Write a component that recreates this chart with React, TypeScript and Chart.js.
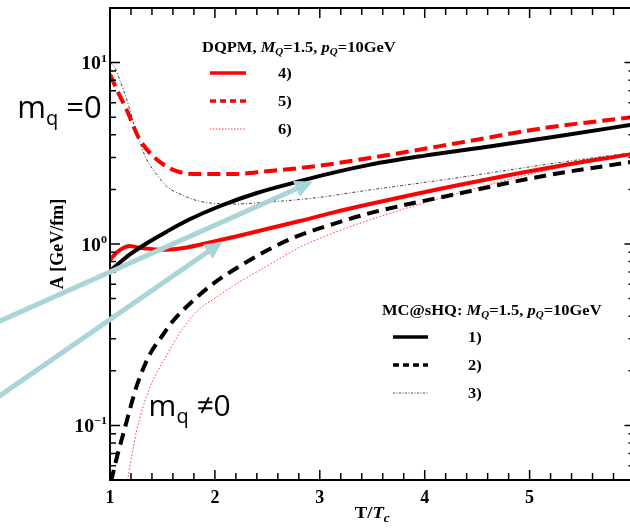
import React, { useEffect, useRef } from 'react';
import { Chart, registerables } from 'chart.js';

Chart.register(...registerables);

const SERIF = "'Liberation Serif', 'Times New Roman', serif";
const SANS = "'Open Sans', 'Liberation Sans', sans-serif";

// ---------- data (T/Tc, A [GeV/fm]) ----------
// MC@sHQ 1) black solid
const T_MC1 = [1.0, 1.1, 1.2, 1.35, 1.54, 1.75, 2.05, 2.4, 2.81, 3.1, 3.48, 4.0, 4.65, 5.3, 6.0];
const A_MC1 = [0.71, 0.796, 0.884, 1.01, 1.17, 1.36, 1.62, 1.91, 2.22, 2.45, 2.74, 3.07, 3.47, 3.95, 4.57];
// MC@sHQ 2) black dashed
const T_MC2 = [1.01, 1.04, 1.072, 1.138, 1.195, 1.253, 1.377, 1.5, 1.6, 1.855, 2.0, 2.2, 2.5, 2.75, 3.125, 3.478, 4.338, 5.131, 6.0];
const A_MC2 = [0.049, 0.058, 0.069, 0.095, 0.126, 0.164, 0.245, 0.313, 0.376, 0.525, 0.614, 0.733, 0.923, 1.084, 1.288, 1.479, 1.905, 2.371, 2.851];
// MC@sHQ 3) black dot-dashed
const T_MC3 = [1.0, 1.043, 1.1, 1.158, 1.253, 1.349, 1.45, 1.54, 1.7, 1.855, 2.17, 2.495, 2.972, 3.383, 4.338, 5.293, 6.0];
const A_MC3 = [10, 9.5, 7.8, 6.3, 4.1, 2.93, 2.4, 2.08, 1.85, 1.72, 1.66, 1.7, 1.8, 1.95, 2.33, 2.82, 3.2];
// DQPM 4) red solid
const T_DQ4 = [1.0, 1.05, 1.1, 1.15, 1.19, 1.25, 1.377, 1.54, 1.7, 1.855, 2.17, 2.495, 2.81, 3.125, 3.478, 4.338, 5.131, 6.0];
const A_DQ4 = [0.82, 0.88, 0.93, 0.965, 0.975, 0.96, 0.94, 0.93, 0.95, 0.99, 1.09, 1.21, 1.34, 1.49, 1.66, 2.12, 2.6, 3.15];
// DQPM 5) red dashed
const T_DQ5 = [1.0, 1.065, 1.158, 1.282, 1.444, 1.635, 1.855, 2.17, 2.495, 2.972, 3.383, 4.338, 5.131, 6.0];
const A_DQ5 = [8.6, 7.1, 5.5, 3.78, 2.93, 2.52, 2.43, 2.43, 2.52, 2.69, 2.92, 3.62, 4.35, 5.02];
// DQPM 6) red dotted
const T_DQ6 = [1.167, 1.253, 1.377, 1.54, 1.692, 1.855, 1.98, 2.17, 2.495, 2.81, 3.128, 3.478, 4.338, 5.131, 6.0];
const A_DQ6 = [0.05, 0.093, 0.16, 0.243, 0.341, 0.44, 0.494, 0.586, 0.755, 0.96, 1.15, 1.36, 1.92, 2.52, 3.13];

// ---------- axes ----------
const X_MIN = 1;
const X_MAX = 6;
const Y_MIN = 0.05;
const Y_MAX = 20;
const X_TICKS = [1, 1.2, 1.4, 1.6, 1.8, 2, 2.2, 2.4, 2.6, 2.8, 3, 3.2, 3.4, 3.6, 3.8, 4, 4.2, 4.4, 4.6, 4.8, 5, 5.2, 5.4, 5.6, 5.8, 6];
const X_LABEL_VALUES = [1, 2, 3, 4, 5, 6];
const X_LABELS = ['1', '2', '3', '4', '5', '6'];
const Y_TICKS = [0.05, 0.06, 0.07, 0.08, 0.09, 0.1, 0.2, 0.3, 0.4, 0.5, 0.6, 0.7, 0.8, 0.9, 1, 2, 3, 4, 5, 6, 7, 8, 9, 10, 20];
const Y_LABEL_VALUES = [0.1, 1, 10];
const Y_LABEL_BASES = ['10', '10', '10'];
const Y_LABEL_EXPS = ['\u22121', '0', '1'];

// ---------- annotations (data coordinates) ----------
const ARROW_FROM_T = [-0.06, -0.06];
const ARROW_FROM_A = [0.374, 0.1445];
const ARROW_TO_T = [2.934, 2.074];
const ARROW_TO_A = [2.21, 1.032];
const NOTE_T = [0.117, 1.368];
const NOTE_A = [4.98, 0.1122];
const NOTE_MAIN = ['m', 'm'];
const NOTE_SUB = ['q', 'q'];
const NOTE_REST = [' =0', ' \u22600'];

type Seg = { t: string; f: string; dy?: number };

const HS = 1.1;

function drawRich(ctx: CanvasRenderingContext2D, segs: Seg[], x: number, y: number, hs = 1, align: 'left' | 'center' | 'right' = 'left', baseline: CanvasTextBaseline = 'alphabetic') {
  let w = 0;
  segs.forEach((s) => {
    ctx.font = s.f;
    w += ctx.measureText(s.t).width;
  });
  ctx.save();
  ctx.translate(x, y);
  ctx.scale(hs, 1);
  let cx = align === 'left' ? 0 : align === 'center' ? -w / 2 : -w;
  ctx.textAlign = 'left';
  ctx.textBaseline = baseline;
  segs.forEach((s) => {
    ctx.font = s.f;
    ctx.fillText(s.t, cx, s.dy ?? 0);
    cx += ctx.measureText(s.t).width;
  });
  ctx.restore();
  return w * hs;
}

const B = (n: number) => `bold ${n}px ${SERIF}`;
const BI = (n: number) => `italic bold ${n}px ${SERIF}`;

const LEGEND_DASH: Record<number, number[]> = { 0: [], 1: [6, 4], 2: [2, 1.5, 1, 1.5], 3: [], 4: [6, 4], 5: [1.5, 1.5] };

const decorPlugin = {
  id: 'decor',
  beforeDraw(chart: any) {
    const { ctx, width, height } = chart;
    ctx.save();
    ctx.fillStyle = '#fff';
    ctx.fillRect(0, 0, width, height);
    ctx.restore();
  },
  afterDraw(chart: any) {
    const { ctx, chartArea } = chart;
    const { left, right, top, bottom } = chartArea;
    const xs = chart.scales.x;
    const ys = chart.scales.y;
    ctx.save();

    // inward tick marks on all four sides
    ctx.strokeStyle = '#000';
    ctx.lineWidth = 1.5;
    ctx.beginPath();
    xs.ticks.forEach((t: any) => {
      const px = xs.getPixelForValue(t.value);
      const major = Math.abs(t.value - Math.round(t.value)) < 1e-6;
      const len = major ? 10 : 7;
      ctx.moveTo(px, bottom);
      ctx.lineTo(px, bottom - len);
      ctx.moveTo(px, top);
      ctx.lineTo(px, top + len);
    });
    ys.ticks.forEach((t: any) => {
      const py = ys.getPixelForValue(t.value);
      const major = Y_LABEL_VALUES.some((v) => Math.abs(v - t.value) < 1e-9);
      const len = major ? 10 : 6;
      ctx.moveTo(left, py);
      ctx.lineTo(left + len, py);
      ctx.moveTo(right, py);
      ctx.lineTo(right - len, py);
    });
    ctx.stroke();
    ctx.lineWidth = 2;
    ctx.strokeRect(left, top, right - left, bottom - top);

    ctx.fillStyle = '#000';
    // y tick labels 10^k
    Y_LABEL_VALUES.forEach((v, i) => {
      const py = ys.getPixelForValue(v);
      ctx.font = B(11);
      const supW = ctx.measureText(Y_LABEL_EXPS[i]).width * HS;
      const xr = left - 3;
      drawRich(ctx, [{ t: Y_LABEL_EXPS[i], f: B(11) }], xr, py - 1, HS, 'right');
      drawRich(ctx, [{ t: Y_LABEL_BASES[i], f: B(18) }], xr - supW, py + 6.5, HS, 'right');
    });

    // axis titles
    drawRich(ctx, [{ t: 'T/', f: B(17) }, { t: 'T', f: BI(17) }, { t: 'c', f: BI(12), dy: 4 }], (left + right) / 2, 518, HS, 'center');
    ctx.save();
    ctx.translate(58, (top + bottom) / 2);
    ctx.rotate(-Math.PI / 2);
    drawRich(ctx, [{ t: 'A [GeV/fm]', f: B(18) }], 0, 0, 1, 'center', 'middle');
    ctx.restore();

    // legends
    const ds = chart.data.datasets;
    const drawLegend = (title: Seg[], tx: number, ty: number, idx: number[], labels: string[], lx0: number, lx1: number, ly: number[], labX: number) => {
      ctx.fillStyle = '#000';
      drawRich(ctx, title, tx, ty, HS);
      idx.forEach((di, k) => {
        const d = ds[di];
        ctx.save();
        ctx.strokeStyle = d.borderColor;
        ctx.lineWidth = d.borderWidth >= 3 ? 3.5 : 1;
        ctx.setLineDash(LEGEND_DASH[di]);
        ctx.beginPath();
        ctx.moveTo(lx0, ly[k]);
        ctx.lineTo(lx1, ly[k]);
        ctx.stroke();
        ctx.restore();
        ctx.fillStyle = '#000';
        drawRich(ctx, [{ t: labels[k], f: B(15) }], labX, ly[k] + 5, HS);
      });
    };
    const titleSegs = (head: string): Seg[] => [
      { t: head, f: B(15) },
      { t: 'M', f: BI(15) },
      { t: 'Q', f: BI(10), dy: 3 },
      { t: '=1.5, ', f: B(15) },
      { t: 'p', f: BI(15) },
      { t: 'Q', f: BI(10), dy: 3 },
      { t: '=10GeV', f: B(15) },
    ];
    drawLegend(titleSegs('DQPM, '), left + 92, top + 44, [3, 4, 5], ['4)', '5)', '6)'], left + 100, left + 136, [top + 65, top + 93, top + 121], left + 168);
    drawLegend(titleSegs('MC@sHQ: '), left + 272, top + 307, [0, 1, 2], ['1)', '2)', '3)'], left + 283, left + 318, [top + 329, top + 357, top + 385], left + 358);

    // arrows
    const AC = '#a9d4d8';
    ARROW_FROM_T.forEach((_, i) => {
      const x1 = xs.getPixelForValue(ARROW_FROM_T[i]);
      const y1 = ys.getPixelForValue(ARROW_FROM_A[i]);
      const x2 = xs.getPixelForValue(ARROW_TO_T[i]);
      const y2 = ys.getPixelForValue(ARROW_TO_A[i]);
      const ang = Math.atan2(y2 - y1, x2 - x1);
      const L = 18;
      const W = 8.5;
      const bx = x2 - L * Math.cos(ang);
      const by = y2 - L * Math.sin(ang);
      ctx.strokeStyle = AC;
      ctx.lineWidth = 5;
      ctx.setLineDash([]);
      ctx.beginPath();
      ctx.moveTo(x1, y1);
      ctx.lineTo(bx + Math.cos(ang), by + Math.sin(ang));
      ctx.stroke();
      ctx.fillStyle = AC;
      ctx.beginPath();
      ctx.moveTo(x2, y2);
      ctx.lineTo(bx + W * Math.sin(ang), by - W * Math.cos(ang));
      ctx.lineTo(bx - W * Math.sin(ang), by + W * Math.cos(ang));
      ctx.closePath();
      ctx.fill();
    });

    // notes
    ctx.fillStyle = '#000';
    const sizes = [31, 30];
    NOTE_T.forEach((_, i) => {
      const px = xs.getPixelForValue(NOTE_T[i]);
      const py = ys.getPixelForValue(NOTE_A[i]);
      const s = sizes[i];
      drawRich(ctx, [
        { t: NOTE_MAIN[i], f: `${s}px ${SANS}` },
        { t: NOTE_SUB[i], f: `${Math.round(s * 0.66)}px ${SANS}`, dy: Math.round(s * 0.22) },
        { t: NOTE_REST[i], f: `${s}px ${SANS}` },
      ], px, py, 1);
    });

    ctx.restore();
  },
};

function pts(t: number[], a: number[]) {
  return t.map((x, i) => ({ x, y: a[i] }));
}

export default function App() {
  const ref = useRef<HTMLCanvasElement | null>(null);
  useEffect(() => {
    if (!ref.current) return;
    const common = { pointRadius: 0, fill: false, cubicInterpolationMode: 'monotone' as const, clip: 0 };
    const chart = new Chart(ref.current, {
      type: 'line',
      data: {
        datasets: [
          { ...common, label: '1)', data: pts(T_MC1, A_MC1), borderColor: '#000000', borderWidth: 4 },
          { ...common, label: '2)', data: pts(T_MC2, A_MC2), borderColor: '#000000', borderWidth: 4, borderDash: [12, 7] },
          { ...common, label: '3)', data: pts(T_MC3, A_MC3), borderColor: '#444444', borderWidth: 1, borderDash: [3, 2, 1, 2] },
          { ...common, label: '4)', data: pts(T_DQ4, A_DQ4), borderColor: '#ff0000', borderWidth: 4 },
          { ...common, label: '5)', data: pts(T_DQ5, A_DQ5), borderColor: '#ff0000', borderWidth: 4, borderDash: [13, 6] },
          { ...common, label: '6)', data: pts(T_DQ6, A_DQ6), borderColor: '#ff3b3b', borderWidth: 1, borderDash: [1.5, 2] },
        ],
      },
      options: {
        responsive: false,
        animation: false,
        devicePixelRatio: 1,
        layout: { padding: { top: 8, right: 6, left: 0, bottom: 0 } },
        plugins: { legend: { display: false }, tooltip: { enabled: false }, title: { display: false } },
        scales: {
          x: {
            type: 'linear',
            min: X_MIN,
            max: X_MAX,
            afterBuildTicks: (s: any) => {
              s.ticks = X_TICKS.map((v) => ({ value: v }));
            },
            afterFit: (s: any) => {
              s.height = 50;
            },
            grid: { display: false, drawTicks: false },
            border: { display: false },
            ticks: {
              autoSkip: false,
              maxRotation: 0,
              padding: 8,
              color: '#000',
              font: { family: SERIF, size: 18, weight: 'bold' },
              callback: (v: any) => {
                const i = X_LABEL_VALUES.findIndex((u) => Math.abs(u - Number(v)) < 1e-6);
                return i >= 0 ? X_LABELS[i] : '';
              },
            },
          },
          y: {
            type: 'logarithmic',
            min: Y_MIN,
            max: Y_MAX,
            afterBuildTicks: (s: any) => {
              s.ticks = Y_TICKS.map((v) => ({ value: v }));
            },
            afterFit: (s: any) => {
              s.width = 110;
            },
            grid: { display: false, drawTicks: false },
            border: { display: false },
            ticks: { display: false },
          },
        },
      },
      plugins: [decorPlugin],
    });
    return () => chart.destroy();
  }, []);
  return (
    <div style={{ position: 'fixed', left: 0, top: 0, width: 630, height: 530, overflow: 'hidden', background: '#fff' }}>
      <canvas ref={ref} width={647} height={530} style={{ display: 'block', width: 647, height: 530 }} />
    </div>
  );
}
